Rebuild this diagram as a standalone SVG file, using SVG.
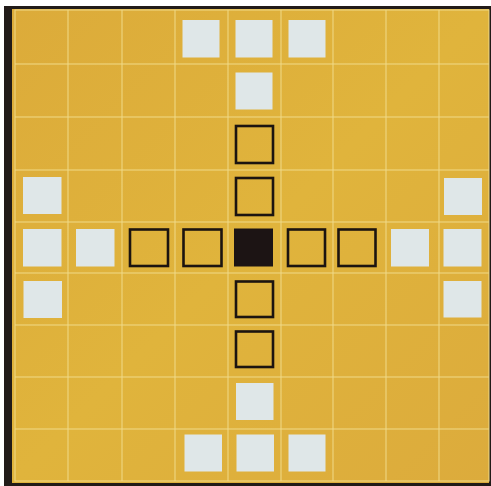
<svg xmlns="http://www.w3.org/2000/svg" width="491" height="486" viewBox="0 0 491 486">
<defs>
<linearGradient id="board" x1="0" y1="0" x2="1" y2="1">
<stop offset="0" stop-color="#dcab3a"/>
<stop offset="0.5" stop-color="#e0b43c"/>
<stop offset="1" stop-color="#dcab3c"/>
</linearGradient>
</defs>
<style>
.grid{stroke:#f0da88;stroke-width:1;fill:none}
.w{fill:#dfe7e8}
.o{fill:none;stroke:#1c1410;stroke-width:2.6}
.b{fill:#1c1414}
</style>
<rect x="0" y="0" width="491" height="486" fill="#ffffff"/>
<rect x="4" y="6" width="487" height="480" fill="#211b18"/>
<rect x="12" y="9" width="477" height="474" fill="url(#board)"/>
<g id="grid" class="grid">
<rect x="15" y="10" width="474" height="471"/>
<line x1="68" y1="10" x2="68" y2="481"/>
<line x1="122" y1="10" x2="122" y2="481"/>
<line x1="175" y1="10" x2="175" y2="481"/>
<line x1="228" y1="10" x2="228" y2="481"/>
<line x1="281" y1="10" x2="281" y2="481"/>
<line x1="333" y1="10" x2="333" y2="481"/>
<line x1="386" y1="10" x2="386" y2="481"/>
<line x1="439" y1="10" x2="439" y2="481"/>
<line x1="15" y1="64" x2="489" y2="64"/>
<line x1="15" y1="117" x2="489" y2="117"/>
<line x1="15" y1="170" x2="489" y2="170"/>
<line x1="15" y1="222" x2="489" y2="222"/>
<line x1="15" y1="273" x2="489" y2="273"/>
<line x1="15" y1="325" x2="489" y2="325"/>
<line x1="15" y1="377" x2="489" y2="377"/>
<line x1="15" y1="429" x2="489" y2="429"/>
</g>
<g id="connectors"/>
<g id="r0c3"><rect class="w" x="182.5" y="20" width="37" height="37.5"/></g>
<g id="r0c4"><rect class="w" x="235.5" y="20" width="37" height="37.5"/></g>
<g id="r0c5"><rect class="w" x="288.5" y="20" width="37" height="37.5"/></g>
<g id="r1c4"><rect class="w" x="235.5" y="72.5" width="37" height="37"/></g>
<g id="r2c4"><rect class="o" x="236" y="126" width="37" height="37"/></g>
<g id="r3c0"><rect class="w" x="23" y="177" width="38.5" height="37"/></g>
<g id="r3c4"><rect class="o" x="236" y="178" width="37" height="37"/></g>
<g id="r3c8"><rect class="w" x="444" y="178" width="38" height="37"/></g>
<g id="r4c0"><rect class="w" x="23" y="229" width="38.5" height="37.5"/></g>
<g id="r4c1"><rect class="w" x="76" y="229" width="38.5" height="37.5"/></g>
<g id="r4c2"><rect class="o" x="130" y="229.5" width="38" height="36.5"/></g>
<g id="r4c3"><rect class="o" x="183.5" y="229.5" width="38" height="36.5"/></g>
<g id="r4c4"><rect class="b" x="234" y="228.5" width="39" height="38"/></g>
<g id="r4c5"><rect class="o" x="288" y="229.5" width="37" height="36.5"/></g>
<g id="r4c6"><rect class="o" x="338.5" y="229.5" width="37" height="36.5"/></g>
<g id="r4c7"><rect class="w" x="391" y="229" width="38" height="37.5"/></g>
<g id="r4c8"><rect class="w" x="443.5" y="229" width="38" height="37.5"/></g>
<g id="r5c0"><rect class="w" x="23.5" y="281" width="38.5" height="37"/></g>
<g id="r5c4"><rect class="o" x="236" y="281.5" width="37" height="35.5"/></g>
<g id="r5c8"><rect class="w" x="443.5" y="281" width="38" height="36.5"/></g>
<g id="r6c4"><rect class="o" x="236" y="331.5" width="37" height="35.5"/></g>
<g id="r7c4"><rect class="w" x="236" y="383" width="37.5" height="37"/></g>
<g id="r8c3"><rect class="w" x="184.5" y="434.5" width="37.5" height="37"/></g>
<g id="r8c4"><rect class="w" x="236.5" y="434.5" width="37.5" height="37"/></g>
<g id="r8c5"><rect class="w" x="288.5" y="434.5" width="37" height="37"/></g>
</svg>
